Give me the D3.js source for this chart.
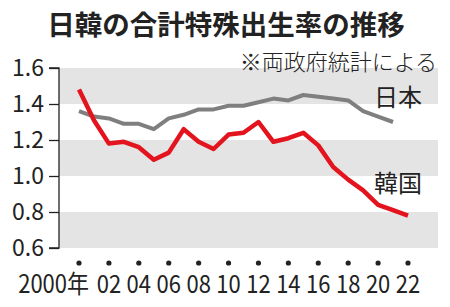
<!DOCTYPE html>
<html><head><meta charset="utf-8">
<script src="https://cdn.jsdelivr.net/npm/d3@7"></script>
<style>body{margin:0;background:#fff}svg{display:block}text{font-family:"Noto Sans CJK JP","Noto Sans",sans-serif}</style>
</head><body>
<script>
const years = d3.range(2000, 2023);
const japan = [1.36,1.33,1.32,1.29,1.29,1.26,1.32,1.34,1.37,1.37,1.39,1.39,1.41,1.43,1.42,1.45,1.44,1.43,1.42,1.36,1.33,1.30];
const korea = [1.48,1.31,1.18,1.19,1.16,1.09,1.13,1.26,1.19,1.15,1.23,1.24,1.30,1.19,1.21,1.24,1.17,1.05,0.98,0.92,0.84,0.81,0.78];
const yTicks = [0.6,0.8,1.0,1.2,1.4,1.6];
const xTickYears = [2000,2002,2004,2006,2008,2010,2012,2014,2016,2018,2020,2022];
const xTickLabels = ["2000年","02","04","06","08","10","12","14","16","18","20","22"];
const bands = [[1.4,1.6],[1.0,1.2],[0.6,0.8]];
const title = "日韓の合計特殊出生率の推移";
const note = "※両政府統計による";

const W=450,H=307;
const svg=d3.select("body").append("svg").attr("width",W).attr("height",H);
const x=d3.scaleLinear().domain([2000,2022]).range([79,408]);
const y=d3.scaleLinear().domain([0.6,1.6]).range([248,68]);
const left=59,right=438;

svg.selectAll("rect.band").data(bands).enter().append("rect")
  .attr("x",left).attr("width",right-left)
  .attr("y",d=>y(d[1])).attr("height",d=>y(d[0])-y(d[1]))
  .attr("fill","#e4e4e5");

const yAxis=d3.axisLeft(y).tickValues(yTicks).tickFormat(d3.format(".1f")).tickSize(10).tickPadding(5);
const ga=svg.append("g").attr("transform",`translate(${left},0)`).call(yAxis);
ga.select(".domain").attr("stroke","#222").attr("stroke-width",1.3).attr("d",`M-10,${y(1.6)}H0V${y(0.6)}H-10`);
ga.selectAll(".tick line").attr("stroke","#222").attr("stroke-width",1.3);
ga.selectAll(".tick text").attr("font-size",23).attr("fill","#222").attr("font-family","Liberation Sans, Arial, sans-serif");

const line=d3.line().x((d,i)=>x(years[i])).y(d=>y(d));
svg.append("path").datum(japan).attr("d",line).attr("fill","none").attr("stroke","#7f7f7f").attr("stroke-width",4).attr("stroke-linejoin","round");
svg.append("path").datum(korea).attr("d",line).attr("fill","none").attr("stroke","#e3141e").attr("stroke-width",4.5).attr("stroke-linejoin","round");

svg.selectAll("circle.dot").data(xTickYears).enter().append("circle")
  .attr("cx",d=>x(d)).attr("cy",263).attr("r",2.6).attr("fill","#222");
const xl=svg.selectAll("g.xl").data(xTickYears).enter().append("g")
  .attr("transform",(d,i)=>`translate(${i===0? x(d)+10 : x(d)},293) scale(0.88,1)`);
xl.append("text")
  .attr("text-anchor",(d,i)=>i===0?"end":"middle").attr("font-size",25).attr("fill","#222")
  .attr("font-family","Liberation Sans, Arial, sans-serif")
  .text((d,i)=>xTickLabels[i]);

svg.append("text").attr("x",226).attr("y",35).attr("text-anchor","middle")
  .attr("font-size",27.5).attr("font-weight","bold").attr("fill","#222").text(title);
svg.append("text").attr("x",437).attr("y",70).attr("text-anchor","end")
  .attr("font-size",22).attr("font-weight",300).attr("fill","#222").text(note);
svg.append("text").attr("x",374).attr("y",106).attr("font-size",24).attr("fill","#222").text("日本");
svg.append("text").attr("x",374).attr("y",192).attr("font-size",24).attr("fill","#222").text("韓国");
</script>
</body></html>
